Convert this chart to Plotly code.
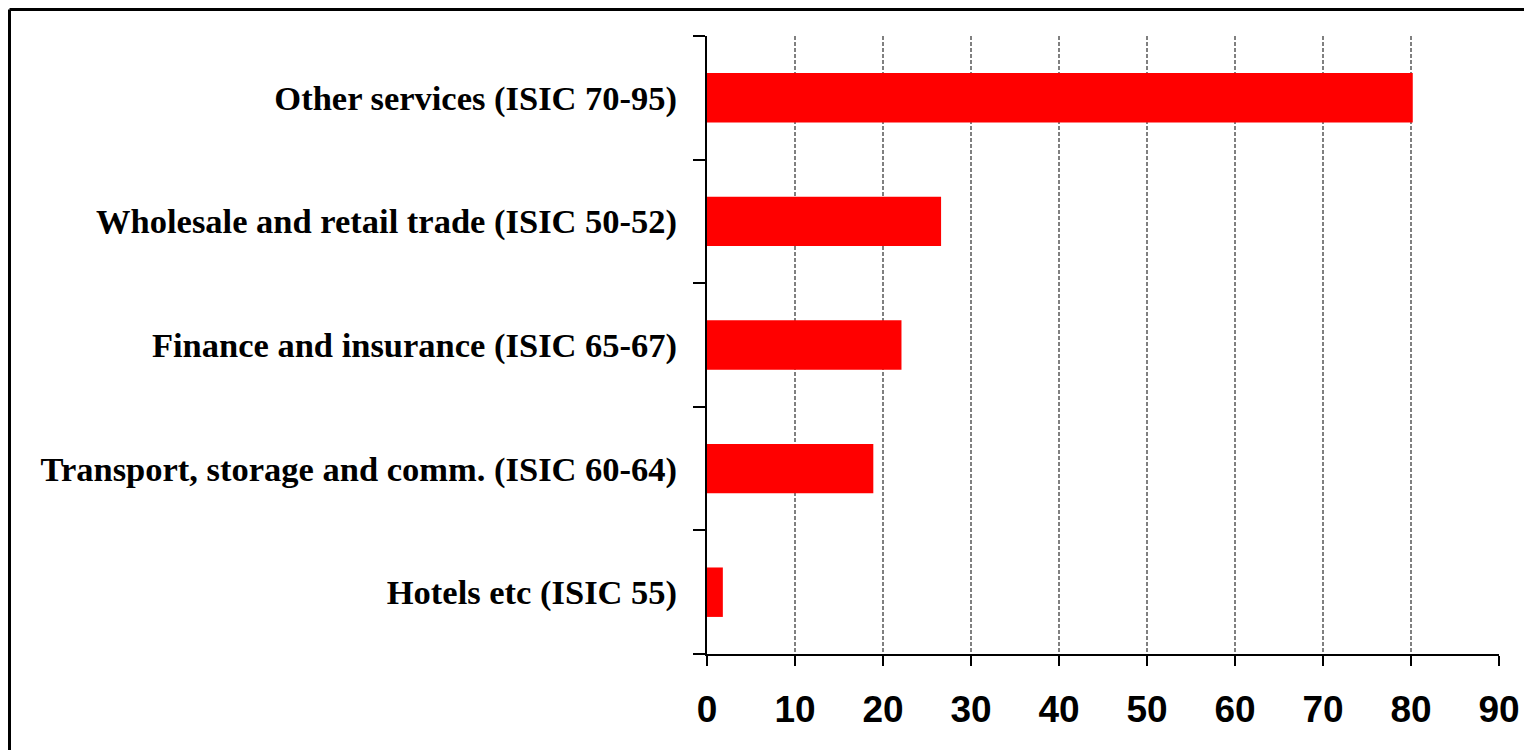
import plotly.graph_objects as go

categories = [
    "Hotels etc (ISIC 55)",
    "Transport, storage and comm. (ISIC 60-64)",
    "Finance and insurance (ISIC 65-67)",
    "Wholesale and retail trade (ISIC 50-52)",
    "Other services (ISIC 70-95)",
]
values = [1.8, 18.9, 22.1, 26.6, 80.2]
x_ticks = [0, 10, 20, 30, 40, 50, 60, 70, 80, 90]

fig = go.Figure(
    go.Bar(
        x=values,
        y=categories,
        orientation="h",
        marker=dict(color="#FF0000", line=dict(width=0)),
        width=0.4,
    )
)

OFF = 8  # page body margin
L, R, T, B = 707 - OFF, 1499 - OFF, 36 - OFF, 654 - OFF
W, H = 1524, 742
pw, ph = R - L, B - T

bx0 = (1.5 - L) / pw
bx1 = (W - L) / pw
by_top = 1 + (T - 1.5) / ph
by_bot = -(H - B) / ph

fig.update_layout(
    width=W,
    height=H,
    margin=dict(l=L, r=W - R, t=T, b=H - B, pad=0, autoexpand=False),
    paper_bgcolor="white",
    plot_bgcolor="white",
    showlegend=False,
    bargap=0.6,
    xaxis=dict(
        range=[0, 90],
        tickvals=x_ticks,
        ticks="outside",
        ticklen=10,
        tickwidth=2,
        tickcolor="black",
        showline=True,
        linecolor="black",
        linewidth=2,
        showgrid=True,
        gridcolor="#808080",
        griddash="4px,2px",
        gridwidth=2,
        zeroline=False,
        automargin=False,
        tickfont=dict(family="Liberation Sans, Arial", size=37, color="black", weight="bold"),
        ticklabelstandoff=12,
    ),
    yaxis=dict(
        type="category",
        categoryorder="array",
        categoryarray=categories,
        tickson="boundaries",
        ticks="outside",
        ticklen=12,
        tickwidth=2,
        tickcolor="black",
        showline=True,
        linecolor="black",
        linewidth=2,
        showgrid=False,
        zeroline=False,
        automargin=False,
        tickfont=dict(family="Liberation Serif, Times New Roman", size=34.5, color="black", weight="bold"),
        ticklabelstandoff=21,
    ),
    shapes=[
        dict(type="line", xref="paper", yref="paper",
             x0=bx0, x1=bx1, y0=by_top, y1=by_top,
             line=dict(color="black", width=3), layer="above"),
        dict(type="line", xref="paper", yref="paper",
             x0=bx0, x1=bx0, y0=by_top, y1=by_bot,
             line=dict(color="black", width=3), layer="above"),
    ],
)

fig.write_html("out.html", config={"displayModeBar": False})
